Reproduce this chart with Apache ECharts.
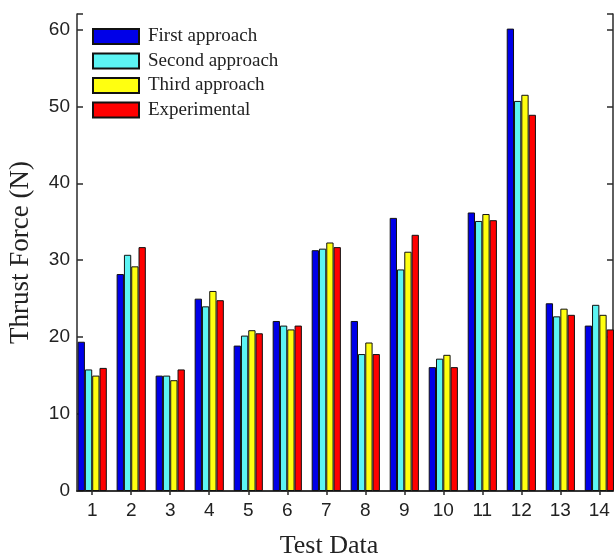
<!DOCTYPE html>
<html>
<head>
<meta charset="utf-8">
<script src="https://cdn.jsdelivr.net/npm/echarts@6/dist/echarts.min.js"></script>
<style>html,body{margin:0;padding:0;background:#fff;}#c{width:614px;height:556px;}</style>
</head>
<body>
<div id="c"></div>
<script>
const categories = [1,2,3,4,5,6,7,8,9,10,11,12,13,14];
const seriesNames = ['First approach','Second approach','Third approach','Experimental'];
const firstApproach  = [19.4,28.2,15.0,25.0,18.9,22.1,31.3,22.1,35.5,16.1,36.2,60.1,24.4,21.5];
const secondApproach = [15.8,30.7,15.0,24.0,20.2,21.5,31.5,17.8,28.8,17.2,35.1,50.7,22.7,24.2];
const thirdApproach  = [15.0,29.2,14.4,26.0,20.9,21.0,32.3,19.3,31.1,17.7,36.0,51.5,23.7,22.9];
const experimental   = [16.0,31.7,15.8,24.8,20.5,21.5,31.7,17.8,33.3,16.1,35.2,48.9,22.9,21.0];
const yTicks = [0,10,20,30,40,50,60];

const colors = ['#0000e8','#5cf4f4','#ffff10','#ff0000'];
const values = [firstApproach, secondApproach, thirdApproach, experimental];

const chart = echarts.init(document.getElementById('c'), null, {renderer:'canvas'});
const axisLine = {show:true, lineStyle:{color:'#2a2a2a', width:1.5}};
const xMin = 0.61, xMax = 14.35;

const option = {
  backgroundColor:'#fff',
  animation:false,
  grid:{left:77, top:14, right:1, bottom:65, containLabel:false, outerBoundsMode:'none'},
  legend:{
    orient:'vertical', left:92, top:27, padding:0,
    itemWidth:46, itemHeight:15, itemGap:5.5,
    icon:'rect',
    textStyle:{fontFamily:'Liberation Serif', fontSize:19, color:'#222', lineHeight:15, padding:[0,0,0,4]},
    data:seriesNames
  },
  xAxis:[{
    type:'value', min:xMin, max:xMax,
    name:'Test Data', nameLocation:'middle', nameGap:42,
    nameTextStyle:{fontFamily:'Liberation Serif', fontSize:26, color:'#222', padding:[0,32,0,0]},
    axisLine:axisLine,
    axisTick:{show:false},
    axisLabel:{customValues:categories, fontFamily:'Liberation Sans', fontSize:19, color:'#222', margin:10},
    splitLine:{show:false}
  },{
    type:'value', min:xMin, max:xMax, position:'top',
    axisLine:axisLine,
    axisTick:{show:true, inside:true, length:4, customValues:categories, lineStyle:{color:'#2a2a2a', width:1.5}},
    axisLabel:{show:false},
    splitLine:{show:false}
  }],
  yAxis:[{
    type:'value', min:0, max:62, interval:10,
    name:'Thrust Force (N)', nameLocation:'middle', nameGap:43,
    nameTextStyle:{fontFamily:'Liberation Serif', fontSize:27, color:'#222'},
    axisLine:axisLine,
    axisTick:{show:true, inside:true, length:6, lineStyle:{color:'#2a2a2a', width:1.5}},
    axisLabel:{fontFamily:'Liberation Sans', fontSize:19, color:'#222', margin:7,
      customValues:yTicks},
    splitLine:{show:false}
  },{
    type:'value', min:0, max:62, interval:10, position:'right',
    axisLine:axisLine,
    axisTick:{show:true, inside:true, length:6, lineStyle:{color:'#2a2a2a', width:1.5}},
    axisLabel:{show:false},
    splitLine:{show:false}
  }],
  series: seriesNames.map((name,i)=>({
    name:name, type:'bar', xAxisIndex:0, yAxisIndex:0,
    barWidth:7.3, barGap:'0%',
    itemStyle:{color:colors[i], borderColor:'#111', borderWidth:1},
    data: categories.map((c,j)=>[c, values[i][j]])
  }))
};
chart.setOption(option);
</script>
</body>
</html>
